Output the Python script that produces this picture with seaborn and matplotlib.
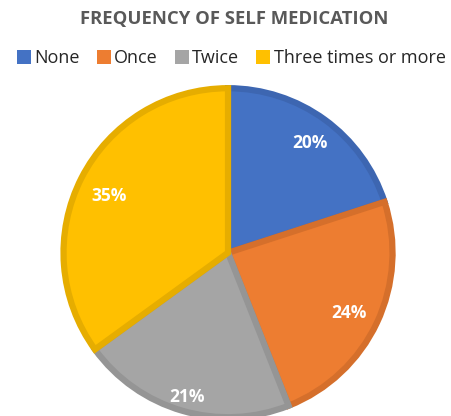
import matplotlib
matplotlib.use("Agg")
import matplotlib.pyplot as plt
from matplotlib.patches import Patch
import numpy as np
import seaborn as sns

categories = ["None", "Once", "Twice", "Three times or more"]
values = [20, 24, 21, 35]
fill_colors = ["#4472C4", "#ED7D31", "#A5A5A5", "#FFC000"]
edge_colors = ["#3D66B1", "#D56F2B", "#959595", "#E6AD00"]
label_dist = [0.85, 0.81, 0.89, 0.81]
title = "FREQUENCY OF SELF MEDICATION"

sns.set_theme(style="white")
plt.rcParams['font.family'] = ['Open Sans', 'DejaVu Sans']

fig = plt.figure(figsize=(4.52, 4.16), dpi=100)
ax = fig.add_axes([0.135, -0.009, 0.739, 0.803])

R = 0.985
wedges, texts, autotexts = ax.pie(
    values, colors=sns.color_palette(fill_colors), startangle=90, counterclock=False, radius=R,
    autopct=lambda p: f"{p:.0f}%", pctdistance=0.82,
    wedgeprops=dict(linewidth=4.5), textprops=dict(color="white", fontsize=12.5, fontweight="bold"))
for w, ec, t, d in zip(wedges, edge_colors, autotexts, label_dist):
    w.set_edgecolor(ec)
    ang = np.deg2rad((w.theta1 + w.theta2) / 2)
    t.set_position((d * R * np.cos(ang), d * R * np.sin(ang) - 0.02))
ax.set_xlim(-1.0, 1.0)
ax.set_ylim(-1.0, 1.0)
ax.set_aspect("equal")

fig.text(0.518, 0.955, title, ha="center", va="center", fontsize=13.3, fontweight="bold", color="#595959")
handles = [Patch(facecolor=c, edgecolor="none") for c in fill_colors]
fig.legend(handles, categories, loc="center", bbox_to_anchor=(0.512, 0.86), ncol=4, frameon=False,
           fontsize=13, handlelength=0.75, handleheight=0.75, handletextpad=0.2, columnspacing=0.95,
           labelcolor="#262626")

fig.savefig("out.png", dpi=100)
